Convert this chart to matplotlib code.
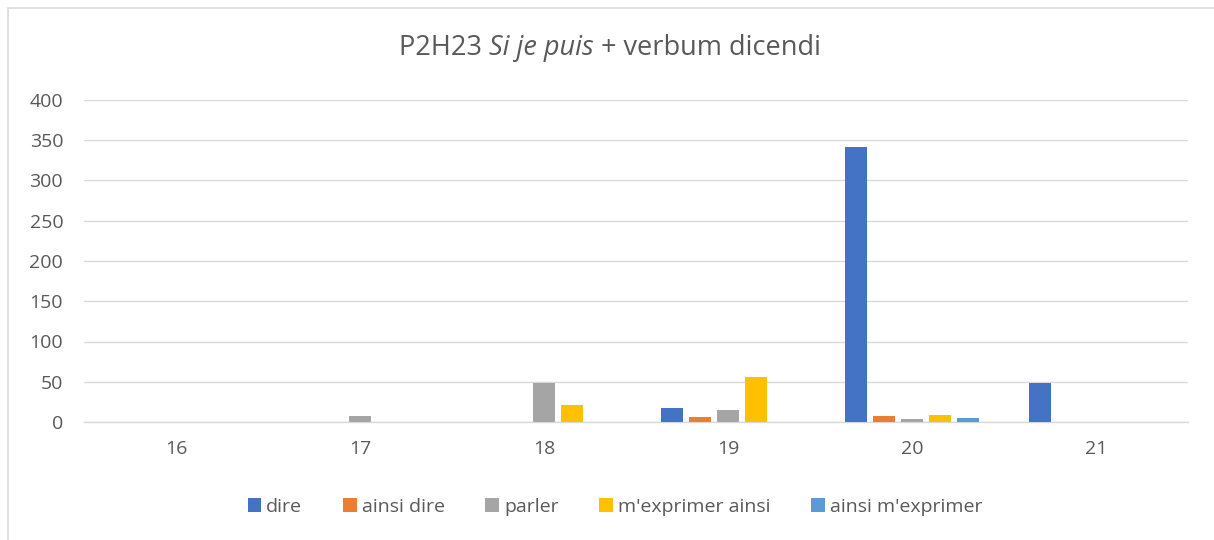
import numpy as np
import matplotlib
matplotlib.use("Agg")
import matplotlib.pyplot as plt
from matplotlib.patches import Rectangle

categories = ["16", "17", "18", "19", "20", "21"]
series_names = ["dire", "ainsi dire", "parler", "m'exprimer ainsi", "ainsi m'exprimer"]
dire = [0, 0.5, 0.5, 18, 341, 49]
ainsi_dire = [0, 0, 0.5, 6, 7, 0]
parler = [0, 8, 48, 15, 4, 0]
mexprimer_ainsi = [0, 0, 21, 56, 9, 0]
ainsi_mexprimer = [0, 0, 0, 0.5, 5, 0.5]
y_ticks = [0, 50, 100, 150, 200, 250, 300, 350, 400]

colors = ["#4472C4", "#ED7D31", "#A5A5A5", "#FFC000", "#5B9BD5"]
series = [dire, ainsi_dire, parler, mexprimer_ainsi, ainsi_mexprimer]

plt.rcParams['font.family'] = ['Open Sans', 'DejaVu Sans']
txt_color = "#595959"

fig = plt.figure(figsize=(12.14, 5.4), dpi=100)
fig.patches.append(Rectangle((8 / 1214, -0.1), 1.2, 1 - 8 / 540 + 0.1, transform=fig.transFigure,
                             fill=False, edgecolor="#D9D9D9", linewidth=1.2))

ax = fig.add_axes([84 / 1214, 1 - 422 / 540, 1104 / 1214, 322 / 540])
x = np.arange(len(categories))
pitch = 0.152
width = 0.12
for j, (vals, name) in enumerate(zip(series, series_names)):
    ax.bar(x + (j - 2) * pitch, vals, width, color=colors[j], label=name, zorder=3)

ax.set_xlim(-0.5, len(categories) - 0.5)
ax.set_ylim(0, 400)
ax.set_yticks(y_ticks)
ax.set_xticks(x)
ax.set_xticklabels(categories)
ax.tick_params(axis="both", length=0, labelsize=14, labelcolor=txt_color)
ax.tick_params(axis="x", pad=13)
ax.tick_params(axis="y", pad=15)
ax.grid(axis="y", color="#D9D9D9", linewidth=1, zorder=0)
for s in ["top", "right", "left"]:
    ax.spines[s].set_visible(False)
ax.spines["bottom"].set_color("#D9D9D9")
ax.spines["bottom"].set_linewidth(1)

leg = fig.legend(loc="center", bbox_to_anchor=(615 / 1214, 1 - 507 / 540), ncol=5, frameon=False,
                 fontsize=14, handlelength=0.7, handleheight=0.7, handletextpad=0.25,
                 columnspacing=2.1, labelcolor=txt_color)

# title with italic part
fig.canvas.draw()
r = fig.canvas.get_renderer()
parts = [("P2H23 ", "normal"), ("Si je puis", "italic"), (" + verbum dicendi", "normal")]
objs = []
for t, st in parts:
    objs.append(fig.text(0, 1 - 48 / 540, t, fontsize=19.5, style=st, color=txt_color, va="center"))
widths = [o.get_window_extent(r).width for o in objs]
total = sum(widths)
start = 610 - total / 2
for o, w in zip(objs, widths):
    o.set_x(start / 1214)
    start += w

fig.savefig("out.png", dpi=100)
